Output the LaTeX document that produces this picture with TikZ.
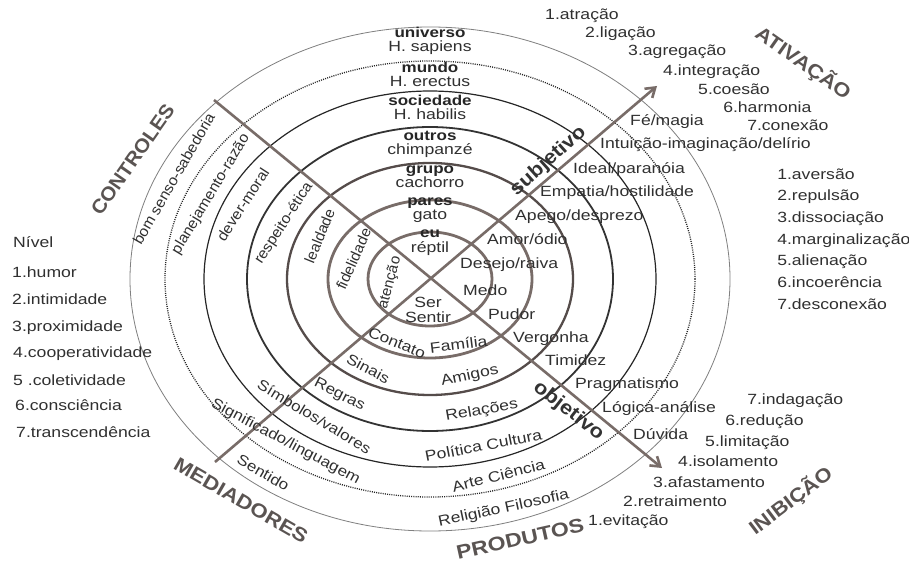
\documentclass[tikz,border=0pt]{standalone}
\usepackage{fontspec}
\setmainfont{Liberation Sans}
\usetikzlibrary{arrows.meta}
\definecolor{txt}{RGB}{48,48,48}
\definecolor{ringc}{RGB}{120,108,104}
\definecolor{ringd}{RGB}{85,76,74}
\definecolor{lblc}{RGB}{90,84,82}
\begin{document}
\begin{tikzpicture}[x=1pt,y=-1pt,
  every node/.style={inner sep=0pt,anchor=mid,text=txt,font=\fontsize{14.8}{16}\selectfont},
  h/.style={xscale=1.19},
  ang/.style={rotate=#1,xscale={1+0.19*cos(#1)^2}},
  big/.style={font=\fontsize{19.5}{20}\selectfont\bfseries,text=lblc},
  bl/.style={h,font=\fontsize{14.3}{16}\selectfont\bfseries,text=black!85},
  lw/.style={h,anchor=mid west},
  thickring/.style={draw=ringc,line width=2.8pt},
  grring/.style={draw=ringd,line width=2.3pt},
  midring/.style={draw=black!80,line width=1.8pt},
  thinring/.style={draw=black!85,line width=1.2pt},
  dotring/.style={draw=black!85,line width=1.3pt,dash pattern=on 1pt off 1.2pt},
  outring/.style={draw=black!50,line width=0.8pt},
  diag/.style={draw=ringc,line width=2.6pt,-{Straight Barb[length=9pt,width=12pt]}}]
\fill[white] (0,0) rectangle (909,564);
\useasboundingbox (0,0) rectangle (909,564);
% rings
\coordinate (c) at (430,279);
\draw[outring] (c) ellipse [x radius=300pt, y radius=252pt];
\draw[dotring] (c) ellipse [x radius=265pt, y radius=218pt];
\draw[thinring] (c) ellipse [x radius=226pt, y radius=188pt];
\draw[midring] (c) ellipse [x radius=183pt, y radius=152pt];
\draw[grring] (c) ellipse [x radius=143pt, y radius=116pt];
\draw[thickring] (c) ellipse [x radius=102pt, y radius=79pt];
\draw[thickring] (c) ellipse [x radius=62pt, y radius=47pt];
% diagonals
\coordinate (ul) at (214,100);
\coordinate (lr) at (662,468);
\coordinate (ll) at (215,462);
\coordinate (ur) at (657,86);
\draw[diag] (ul) -- (lr);
\draw[diag] (ll) -- (ur);
% top column
\node[bl] (n-universo) at (430,35) {universo};
\node[h] (n-sapiens) at (430,49) {H. sapiens};
\node[bl] (n-mundo) at (430,70) {mundo};
\node[h] (n-erectus) at (430,84) {H. erectus};
\node[bl] (n-sociedade) at (430,103) {sociedade};
\node[h] (n-habilis) at (430,117) {H. habilis};
\node[bl] (n-outros) at (430,138) {outros};
\node[h] (n-chimp) at (430,152) {chimpanzé};
\node[bl] (n-grupo) at (430,171) {grupo};
\node[h] (n-cachorro) at (430,185) {cachorro};
\node[bl] (n-pares) at (430,203) {pares};
\node[h] (n-gato) at (430,217) {gato};
\node[bl] (n-eu) at (430,235) {eu};
\node[h] (n-reptil) at (430,250) {réptil};
\node[h] (n-ser) at (428,305) {Ser};
\node[h] (n-sentir) at (428,320) {Sentir};
% right ring texts
\node[lw] (r1) at (630,123) {Fé/magia};
\node[lw] (r2) at (600,146) {Intuição-imaginação/delírio};
\node[lw] (r3) at (573,171) {Ideal/paranóia};
\node[lw] (r4) at (540,194) {Empatia/hostilidade};
\node[lw] (r5) at (515,218) {Apego/desprezo};
\node[lw] (r6) at (487,242) {Amor/ódio};
\node[lw] (r7) at (460,266) {Desejo/raiva};
\node[lw] (r8) at (463,293) {Medo};
\node[lw] (r9) at (488,317) {Pudor};
\node[lw] (r10) at (513,340) {Vergonha};
\node[lw] (r11) at (545,363) {Timidez};
\node[lw] (r12) at (575,386) {Pragmatismo};
\node[lw] (r13) at (602,410) {Lógica-análise};
\node[lw] (r14) at (633,437) {Dúvida};
% left rotated ring texts
\node[ang=60] (l1) at (176,180) {bom senso-sabedoria};
\node[ang=59] (l2) at (212,195) {planejamento-razão};
\node[ang=57] (l3) at (245,206) {dever-moral};
\node[ang=57] (l4) at (285,224) {respeito-ética};
\node[ang=68] (l5) at (322,237) {lealdade};
\node[ang=66] (l6) at (356,260) {fidelidade};
\node[ang=75] (l7) at (391,283) {atenção};
% bottom ring texts
\node[ang=-22] (b1) at (396,345) {Contato};
\node[ang=7] (b2) at (459,347) {Família};
\node[ang=-28] (b3) at (367,371) {Sinais};
\node[ang=12] (b4) at (470,377) {Amigos};
\node[ang=-27] (b5) at (339,396) {Regras};
\node[ang=10] (b6) at (482,412) {Relações};
\node[ang=-31] (b7) at (313,419) {Símbolos/valores};
\node[ang=11] (b8) at (484,448) {Política Cultura};
\node[ang=-28] (b9) at (285,443) {Significado/linguagem};
\node[ang=14] (b10) at (499,478) {Arte Ciência};
\node[ang=-30] (b11) at (262,475) {Sentido};
\node[ang=12] (b12) at (504,510) {Religião Filosofia};
% axis labels
\node[big,text=black!80,ang=42] (subj) at (550,163) {subjetivo};
\node[big,text=black!80,ang=-38] (obj) at (567,413) {objetivo};
% big labels
\node[big,ang=55] (controles) at (136,162) {CONTROLES};
\node[big,ang=-35] (ativacao) at (801,66) {ATIVAÇÃO};
\node[big,ang=-30] (mediadores) at (239,504) {MEDIADORES};
\node[big,ang=12.5] (produtos) at (521,543) {PRODUTOS};
\node[big,ang=37] (inibicao) at (793,504) {INIBIÇÃO};
% activation list
\node[lw] (a1) at (545,17) {1.atração};
\node[lw] (a2) at (585,35) {2.ligação};
\node[lw] (a3) at (628,53) {3.agregação};
\node[lw] (a4) at (663,73) {4.integração};
\node[lw] (a5) at (698,92) {5.coesão};
\node[lw] (a6) at (723,110) {6.harmonia};
\node[lw] (a7) at (747,128) {7.conexão};
% right list
\node[lw] (d1) at (777,177) {1.aversão};
\node[lw] (d2) at (777,198) {2.repulsão};
\node[lw] (d3) at (777,220) {3.dissociação};
\node[lw] (d4) at (777,242) {4.marginalização};
\node[lw] (d5) at (777,263) {5.alienação};
\node[lw] (d6) at (777,285) {6.incoerência};
\node[lw] (d7) at (777,307) {7.desconexão};
% inhibition list
\node[lw] (i7) at (747,402) {7.indagação};
\node[lw] (i6) at (725,423) {6.redução};
\node[lw] (i5) at (705,444) {5.limitação};
\node[lw] (i4) at (678,464) {4.isolamento};
\node[lw] (i3) at (653,485) {3.afastamento};
\node[lw] (i2) at (623,504) {2.retraimento};
\node[lw] (i1) at (588,523) {1.evitação};
% left list
\node[lw] (v0) at (13,245) {Nível};
\node[lw] (v1) at (12,275) {1.humor};
\node[lw] (v2) at (12,302) {2.intimidade};
\node[lw] (v3) at (12,329) {3.proximidade};
\node[lw] (v4) at (13,355) {4.cooperatividade};
\node[lw] (v5) at (13,383) {5 .coletividade};
\node[lw] (v6) at (15,408) {6.consciência};
\node[lw] (v7) at (16,435) {7.transcendência};
\end{tikzpicture}
\end{document}
